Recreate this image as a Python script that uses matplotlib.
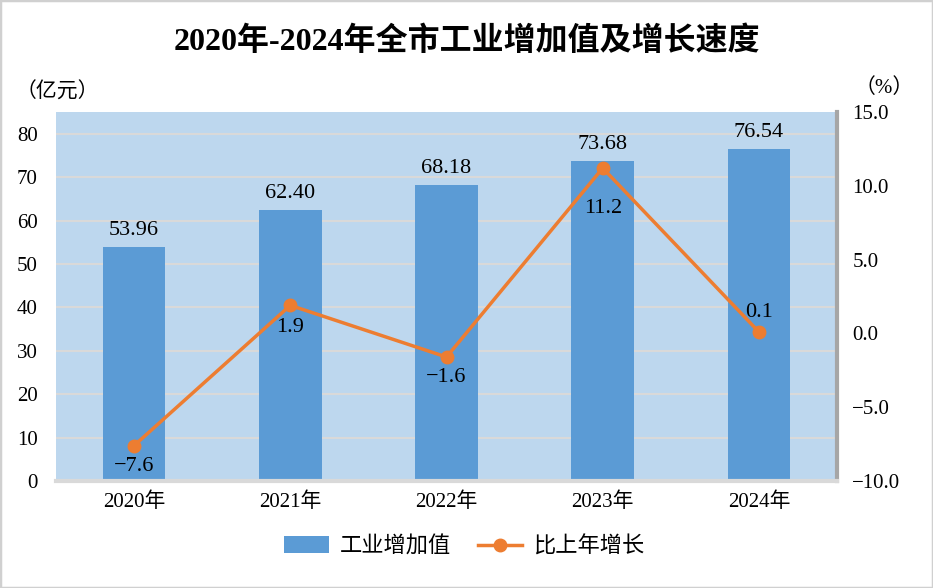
import numpy as np
import matplotlib.pyplot as plt
from matplotlib.patches import Rectangle

years = ['2020年', '2021年', '2022年', '2023年', '2024年']
value = [53.96, 62.40, 68.18, 73.68, 76.54]
growth = [-7.6, 1.9, -1.6, 11.2, 0.1]
left_ticks = [0, 10, 20, 30, 40, 50, 60, 70, 80]
right_ticks = [-10, -5, 0, 5, 10, 15]

FONT = ['Liberation Serif', 'Noto Sans CJK SC']
plt.rcParams['font.family'] = FONT
plt.rcParams['axes.unicode_minus'] = True

W, H = 933, 588
fig = plt.figure(figsize=(W / 100, H / 100), dpi=100)

# figure border
fig.patches.append(Rectangle((0, 0), 1, 1, transform=fig.transFigure,
                             fill=False, edgecolor='#D0D0D0', lw=2.5))

ax = fig.add_axes([56 / W, (H - 481) / H, 781 / W, 369 / H])
ax.set_facecolor('#BDD7EE')
x = np.arange(len(years))
ax.bar(x, value, width=0.4, color='#5B9BD5', zorder=2, label='工业增加值')
ax.set_xlim(-0.5, len(years) - 0.5)
ax.set_ylim(0, 85)
ax.set_yticks(left_ticks)
ax.yaxis.grid(True, color='#D9D9D9', lw=1.5, zorder=0)
ax.set_axisbelow(True)
ax.set_xticks(x)
ax.set_xticklabels(years)
ax.tick_params(axis='both', length=0, labelsize=15)
ax.tick_params(axis='y', pad=13)
ax.tick_params(axis='x', pad=8)
for s in ['top', 'left']:
    ax.spines[s].set_visible(False)
ax.spines['bottom'].set_color('#D9D9D9')
ax.spines['bottom'].set_linewidth(3)
ax.spines['right'].set_color('#A6A6A6')
ax.spines['right'].set_linewidth(3)

for xi, v in zip(x, value):
    ax.annotate(f'{v:.2f}', (xi, v), xytext=(0, 5), textcoords='offset points',
                ha='center', va='bottom', fontsize=16)

ax2 = ax.twinx()
ax2.plot(x, growth, color='#ED7D31', lw=2.5, marker='o', markersize=9,
         zorder=3, label='比上年增长')
ax2.set_ylim(-10, 15)
ax2.set_yticks(right_ticks)
ax2.set_yticklabels([f'{t:.1f}'.replace('-', '\u2212') for t in right_ticks])
ax2.tick_params(axis='y', length=0, labelsize=15, pad=11)
for s in ax2.spines.values():
    s.set_visible(False)

offsets = [-8, -9, -8, -22, 7]
for xi, g, off in zip(x, growth, offsets):
    lbl = f'{g:.1f}'.replace('-', '\u2212')
    ax2.annotate(lbl, (xi, g), xytext=(0, off), textcoords='offset points',
                 ha='center', va='bottom' if off > 0 else 'top', fontsize=16)

fig.text(0.5, 1 - 42 / H, '2020年-2024年全市工业增加值及增长速度',
         ha='center', va='center', fontsize=23, fontweight='bold')
fig.text(16 / W, 1 - 93 / H, '（亿元）', ha='left', va='center', fontsize=15)
fig.text(914 / W, 1 - 88 / H, '（%）', ha='right', va='center', fontsize=15)

h1, l1 = ax.get_legend_handles_labels()
h2, l2 = ax2.get_legend_handles_labels()
fig.legend(h1 + h2, l1 + l2, loc='center', bbox_to_anchor=(0.498, 1 - 547 / H),
           ncol=2, frameon=False, fontsize=16, handlelength=2.0,
           handleheight=0.8, handletextpad=0.5, columnspacing=1.2)

fig.savefig('out.png', dpi=100)
